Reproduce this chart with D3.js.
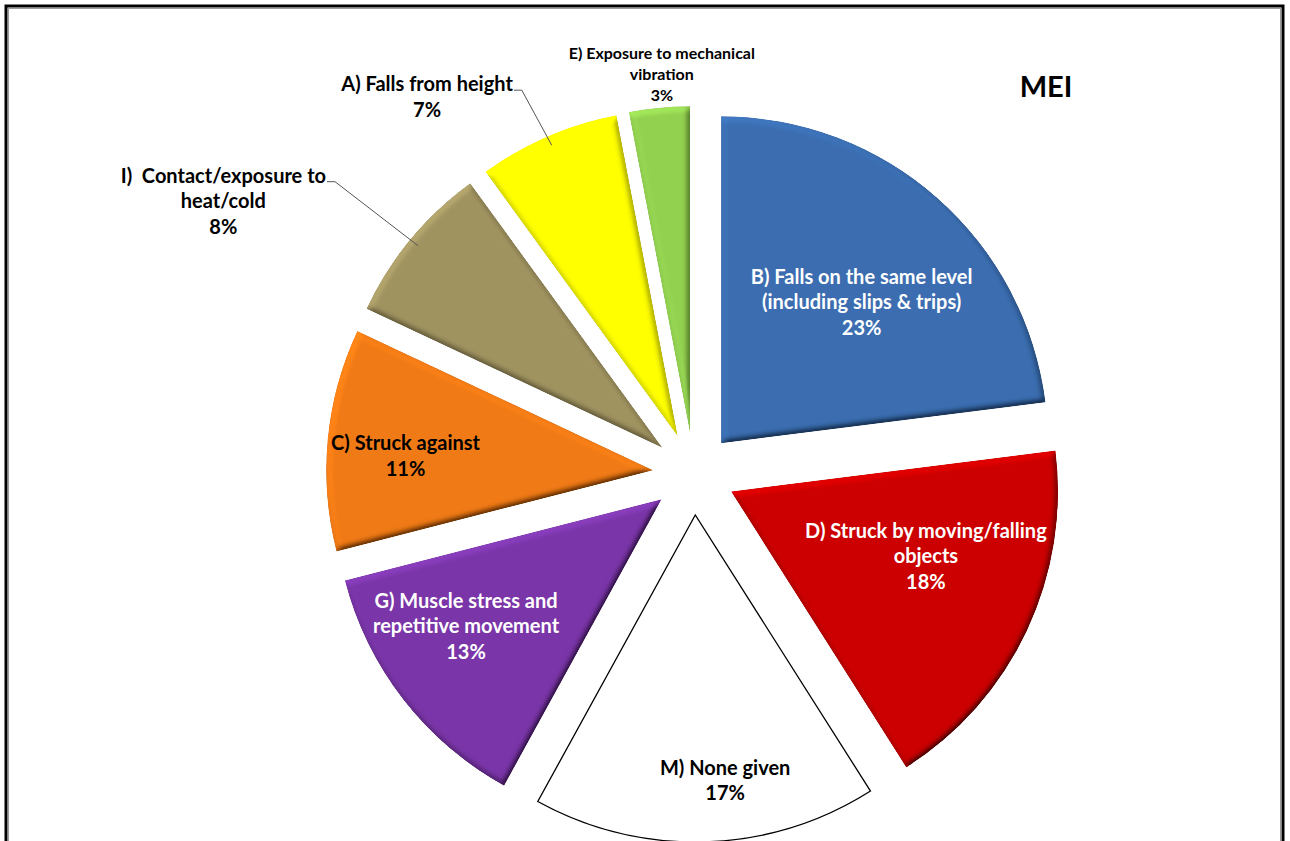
<!DOCTYPE html>
<html>
<head>
<meta charset="utf-8">
<script src="https://cdn.jsdelivr.net/npm/d3@7"></script>
<style>
  html, body { margin: 0; padding: 0; background: #fff; overflow: hidden; }
  text { font-family: Lato, "Open Sans", sans-serif; font-weight: bold; white-space: pre; }
</style>
</head>
<body>
<svg id="chart" width="1290" height="841"></svg>
<script>
// data
const categories = ["B", "D", "M", "G", "C", "I", "A", "E"];
const shares = [23, 18, 17, 13, 11, 8, 7, 3];
const labelLines = [
  ["B) Falls on the same level", "(including slips & trips)"],
  ["D) Struck by moving/falling", "objects"],
  ["M) None given"],
  ["G) Muscle stress and", "repetitive movement"],
  ["C) Struck against"],
  ["I)  Contact/exposure to", "heat/cold"],
  ["A) Falls from height"],
  ["E) Exposure to mechanical", "vibration"]
];
const chartTitle = "MEI";

// look
const sliceColors = ["#3a6db0", "#cc0000", "#ffffff", "#7a35a8", "#f07a14", "#a09360", "#ffff00", "#92d050"];
const labelColors = ["#fff", "#fff", "#000", "#fff", "#000", "#000", "#000", "#000"];
// label placement: [distance from pie centre, angle in degrees]
const labelPlace = [[240, 44.3], [246, 109.5], [308, 174.2], [274, 236.3], [289, 273.6], [544, 300.1], [462, 324.7], [401, 355.4]];
const leaders = { I: true, A: true };

const width = 1290, height = 841;
const cx = 694, cy = 474, radius = 327, explode = 41;

const svg = d3.select('#chart');

// bevel filter
const defs = svg.append('defs');
const bevel = defs.append('filter').attr('id', 'bevel')
  .attr('x', '-5%').attr('y', '-5%').attr('width', '110%').attr('height', '110%');
bevel.append('feGaussianBlur').attr('in', 'SourceAlpha').attr('stdDeviation', 3).attr('result', 'blur');
bevel.append('feDiffuseLighting').attr('in', 'blur').attr('surfaceScale', 4)
  .attr('diffuseConstant', 1).attr('lighting-color', '#fff').attr('result', 'light')
  .append('feDistantLight').attr('azimuth', 235).attr('elevation', 50);
bevel.append('feComposite').attr('in', 'SourceGraphic').attr('in2', 'light')
  .attr('operator', 'arithmetic').attr('k1', 1 / Math.sin(50 * Math.PI / 180))
  .attr('k2', 0).attr('k3', 0).attr('k4', 0).attr('result', 'lit');
bevel.append('feComposite').attr('in', 'lit').attr('in2', 'SourceAlpha').attr('operator', 'in');

// frame
svg.append('rect')
  .attr('x', 6).attr('y', 6).attr('width', 1277).attr('height', 900)
  .attr('fill', 'none').attr('stroke', '#000').attr('stroke-width', 3);
svg.append('rect')
  .attr('x', 8.5).attr('y', 8.5).attr('width', 1272).attr('height', 900)
  .attr('fill', 'none').attr('stroke', '#9a9a9a').attr('stroke-width', 1);

const pie = d3.pie().sort(null).value(d => d);
const arcs = pie(shares);
const arc = d3.arc().innerRadius(0).outerRadius(radius);
const rimArc = d3.arc().innerRadius(radius * 0.97).outerRadius(radius * 0.97);

const mid = d => (d.startAngle + d.endAngle) / 2;
const shift = d => [Math.sin(mid(d)) * explode, -Math.cos(mid(d)) * explode];

const g = svg.append('g').attr('transform', `translate(${cx},${cy})`);

g.selectAll('.slice')
  .data(arcs)
  .enter().append('path')
    .attr('class', 'slice')
    .attr('transform', d => `translate(${shift(d)})`)
    .attr('d', arc)
    .attr('fill', (d, i) => sliceColors[i])
    .attr('stroke', (d, i) => categories[i] === 'M' ? '#000' : 'none')
    .attr('stroke-width', 1.3)
    .attr('filter', (d, i) => categories[i] === 'M' ? null : 'url(#bevel)');

// labels
const lineH = i => categories[i] === 'E' ? 21 : 25.5;
const fontSize = i => categories[i] === 'E' ? 16 : 20;

const labels = g.selectAll('.lbl')
  .data(arcs)
  .enter().append('text')
    .attr('class', 'lbl')
    .attr('text-anchor', 'middle')
    .attr('fill', (d, i) => labelColors[i])
    .style('font-size', (d, i) => fontSize(i) + 'px')
    .attr('transform', (d, i) => {
      const [r, a] = labelPlace[i];
      const t = a * Math.PI / 180;
      return `translate(${r * Math.sin(t)},${-r * Math.cos(t)})`;
    });

labels.each(function (d, i) {
  const lines = labelLines[i].concat([d3.format('.0%')(shares[i] / 100)]);
  const h = lineH(i);
  const top = -(lines.length - 1) * h / 2;
  d3.select(this).selectAll('tspan')
    .data(lines)
    .enter().append('tspan')
      .attr('x', 0)
      .attr('y', (t, k) => top + k * h)
      .attr('dy', '0.35em')
      .text(t => t);
});

// leader lines for the outside labels
labels.each(function (d, i) {
  if (!leaders[categories[i]]) return;
  const [r, a] = labelPlace[i];
  const t = a * Math.PI / 180;
  const lx = r * Math.sin(t), ly = r * Math.cos(t) * -1;
  const first = d3.select(this).select('tspan').node();
  const w = first.getComputedTextLength();
  const y0 = ly - (labelLines[i].length) * lineH(i) / 2 + 6;
  const x0 = lx + w / 2 + 1;
  const [sx, sy] = shift(d);
  const [ex, ey] = rimArc.centroid(d);
  g.append('path')
    .attr('d', d3.line()([[x0, y0], [x0 + 8, y0], [ex + sx, ey + sy]]))
    .attr('fill', 'none')
    .attr('stroke', '#555')
    .attr('stroke-width', 1);
});

// title
svg.append('text')
  .attr('x', 1046).attr('y', 97)
  .attr('text-anchor', 'middle')
  .style('font-size', '29px')
  .text(chartTitle);
</script>
</body>
</html>
